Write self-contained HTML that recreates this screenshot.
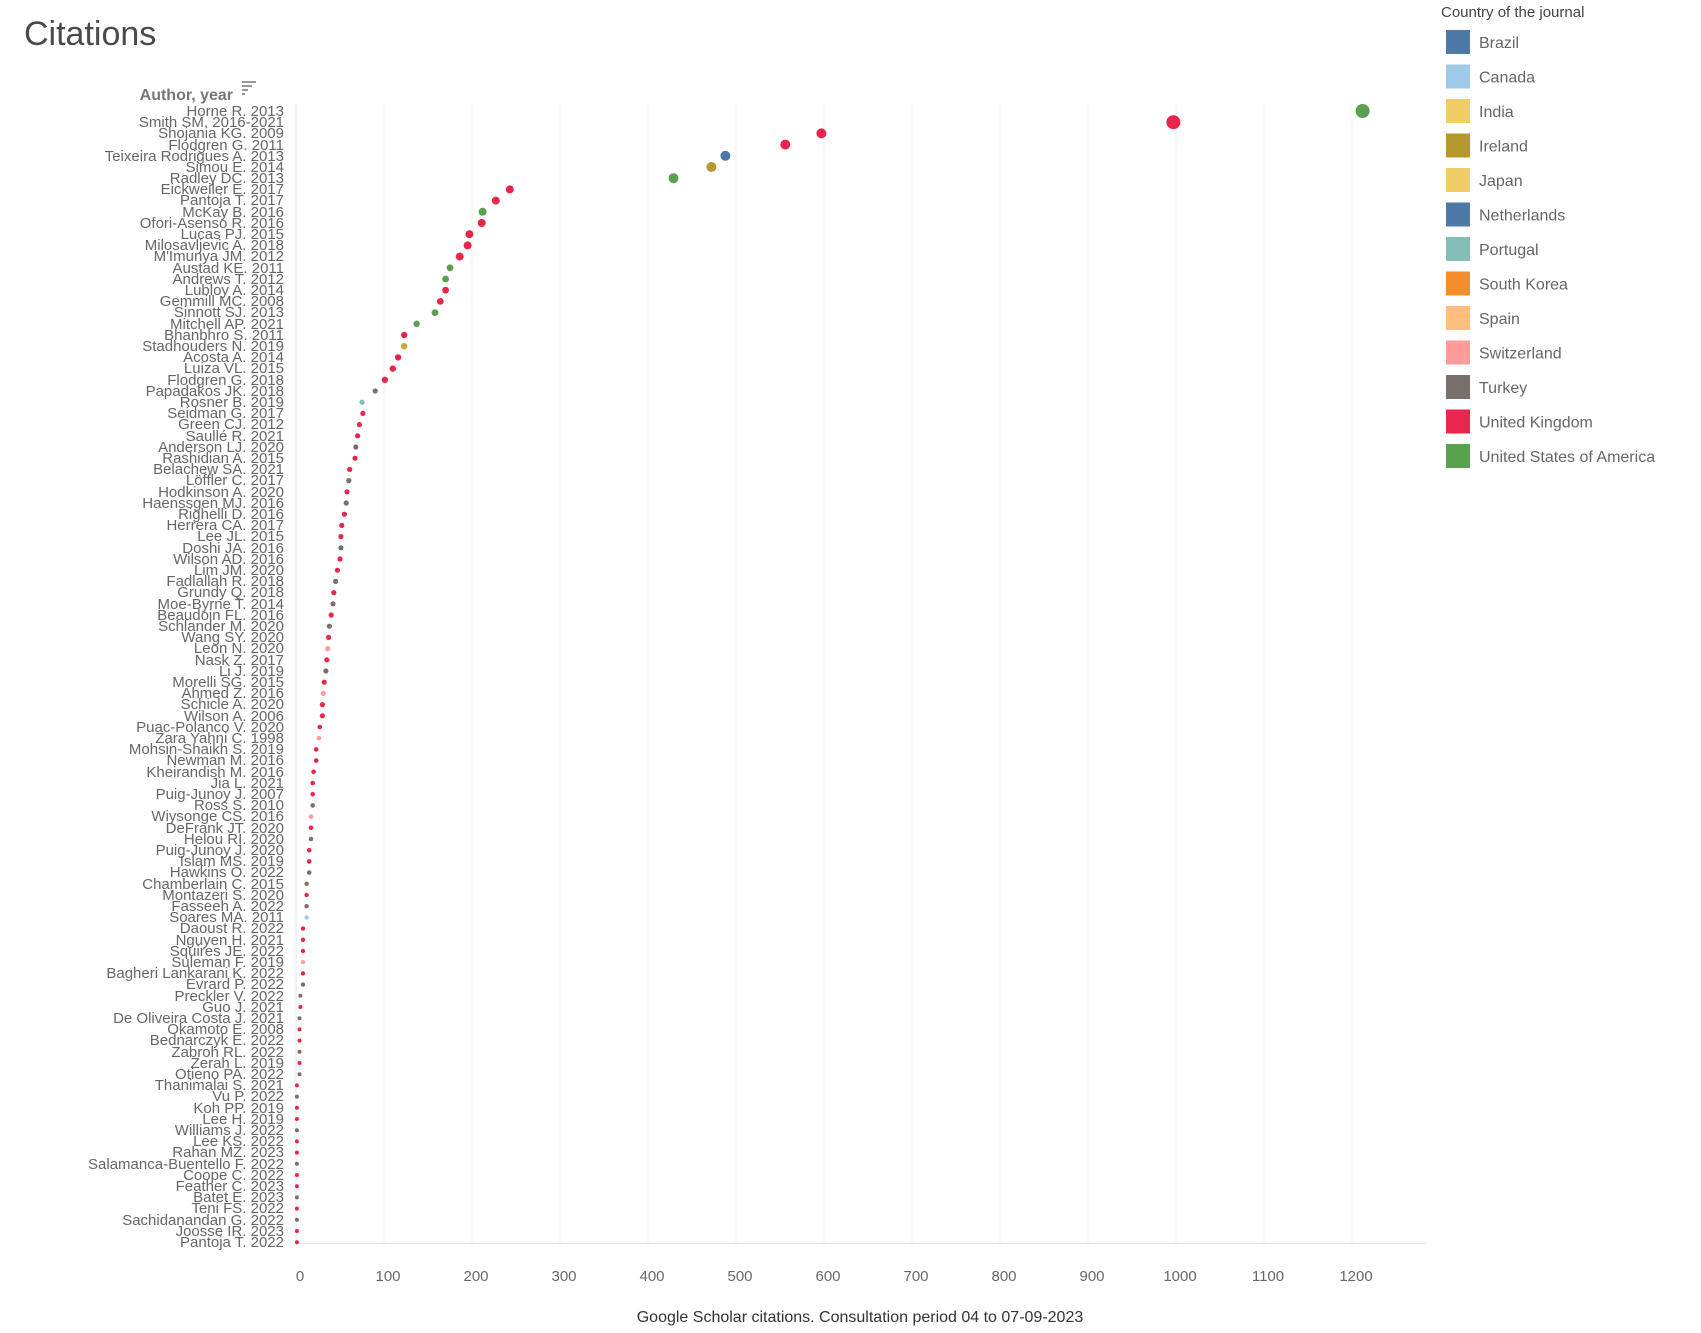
<!DOCTYPE html>
<html><head><meta charset="utf-8"><style>
html,body{margin:0;padding:0;background:#fff;}
svg{display:block;font-family:"Liberation Sans",sans-serif;}
</style></head><body>
<svg width="1701" height="1333" viewBox="0 0 1701 1333">
<text x="24" y="45" font-size="34" fill="#4a4a4a">Citations</text>
<text x="233" y="100" font-size="16" font-weight="bold" fill="#777" text-anchor="end">Author, year</text>
<g fill="#999"><rect x="242" y="81" width="14" height="2"/><rect x="242" y="85" width="10" height="2"/><rect x="242" y="89" width="6" height="2"/><rect x="242" y="93" width="3" height="2"/></g>
<g stroke="#ececec" stroke-width="1">
<line x1="384" y1="103" x2="384" y2="1243"/><line x1="472" y1="103" x2="472" y2="1243"/><line x1="560" y1="103" x2="560" y2="1243"/><line x1="648" y1="103" x2="648" y2="1243"/><line x1="736" y1="103" x2="736" y2="1243"/><line x1="824" y1="103" x2="824" y2="1243"/><line x1="912" y1="103" x2="912" y2="1243"/><line x1="1000" y1="103" x2="1000" y2="1243"/><line x1="1088" y1="103" x2="1088" y2="1243"/><line x1="1176" y1="103" x2="1176" y2="1243"/><line x1="1264" y1="103" x2="1264" y2="1243"/><line x1="1352" y1="103" x2="1352" y2="1243"/>
</g>
<line x1="296" y1="103" x2="296" y2="1243" stroke="#e4e4e4"/>
<line x1="296" y1="1243.5" x2="1427" y2="1243.5" stroke="#e4e4e4"/>
<g font-size="15" fill="#666" text-anchor="middle">
<text x="300" y="1281">0</text><text x="388" y="1281">100</text><text x="476" y="1281">200</text><text x="564" y="1281">300</text><text x="652" y="1281">400</text><text x="740" y="1281">500</text><text x="828" y="1281">600</text><text x="916" y="1281">700</text><text x="1004" y="1281">800</text><text x="1092" y="1281">900</text><text x="1180" y="1281">1000</text><text x="1268" y="1281">1100</text><text x="1356" y="1281">1200</text>
</g>
<text x="860" y="1322" font-size="16" fill="#333" text-anchor="middle">Google Scholar citations. Consultation period 04 to 07-09-2023</text>
<g font-size="15" fill="#666" text-anchor="end">
<text x="284" y="116">Horne R. 2013</text>
<text x="284" y="127">Smith SM. 2016-2021</text>
<text x="284" y="138">Shojania KG. 2009</text>
<text x="284" y="150">Flodgren G. 2011</text>
<text x="284" y="161">Teixeira Rodrigues A. 2013</text>
<text x="284" y="172">Simou E. 2014</text>
<text x="284" y="183">Radley DC. 2013</text>
<text x="284" y="194">Eickweiler E. 2017</text>
<text x="284" y="205">Pantoja T. 2017</text>
<text x="284" y="217">McKay B. 2016</text>
<text x="284" y="228">Ofori-Asenso R. 2016</text>
<text x="284" y="239">Lucas PJ. 2015</text>
<text x="284" y="250">Milosavljevic A. 2018</text>
<text x="284" y="261">M'Imunya JM. 2012</text>
<text x="284" y="273">Austad KE. 2011</text>
<text x="284" y="284">Andrews T. 2012</text>
<text x="284" y="295">Lubloy A. 2014</text>
<text x="284" y="306">Gemmill MC. 2008</text>
<text x="284" y="317">Sinnott SJ. 2013</text>
<text x="284" y="329">Mitchell AP. 2021</text>
<text x="284" y="340">Bhanbhro S. 2011</text>
<text x="284" y="351">Stadhouders N. 2019</text>
<text x="284" y="362">Acosta A. 2014</text>
<text x="284" y="373">Luiza VL. 2015</text>
<text x="284" y="385">Flodgren G. 2018</text>
<text x="284" y="396">Papadakos JK. 2018</text>
<text x="284" y="407">Rosner B. 2019</text>
<text x="284" y="418">Seidman G. 2017</text>
<text x="284" y="429">Green CJ. 2012</text>
<text x="284" y="441">Saullé R. 2021</text>
<text x="284" y="452">Anderson LJ. 2020</text>
<text x="284" y="463">Rashidian A. 2015</text>
<text x="284" y="474">Belachew SA. 2021</text>
<text x="284" y="485">Löffler C. 2017</text>
<text x="284" y="497">Hodkinson A. 2020</text>
<text x="284" y="508">Haenssgen MJ. 2016</text>
<text x="284" y="519">Righelli D. 2016</text>
<text x="284" y="530">Herrera CA. 2017</text>
<text x="284" y="541">Lee JL. 2015</text>
<text x="284" y="553">Doshi JA. 2016</text>
<text x="284" y="564">Wilson AD. 2016</text>
<text x="284" y="575">Lim JM. 2020</text>
<text x="284" y="586">Fadlallah R. 2018</text>
<text x="284" y="597">Grundy Q. 2018</text>
<text x="284" y="609">Moe-Byrne T. 2014</text>
<text x="284" y="620">Beaudoin FL. 2016</text>
<text x="284" y="631">Schlander M. 2020</text>
<text x="284" y="642">Wang SY. 2020</text>
<text x="284" y="653">Leon N. 2020</text>
<text x="284" y="665">Nask Z. 2017</text>
<text x="284" y="676">Li J. 2019</text>
<text x="284" y="687">Morelli SG. 2015</text>
<text x="284" y="698">Ahmed Z. 2016</text>
<text x="284" y="709">Schicle A. 2020</text>
<text x="284" y="721">Wilson A. 2006</text>
<text x="284" y="732">Puac-Polanco V. 2020</text>
<text x="284" y="743">Zara Yahni C. 1998</text>
<text x="284" y="754">Mohsin-Shaikh S. 2019</text>
<text x="284" y="765">Newman M. 2016</text>
<text x="284" y="777">Kheirandish M. 2016</text>
<text x="284" y="788">Jia L. 2021</text>
<text x="284" y="799">Puig-Junoy J. 2007</text>
<text x="284" y="810">Ross S. 2010</text>
<text x="284" y="821">Wiysonge CS. 2016</text>
<text x="284" y="833">DeFrank JT. 2020</text>
<text x="284" y="844">Helou RI. 2020</text>
<text x="284" y="855">Puig-Junoy J. 2020</text>
<text x="284" y="866">Islam MS. 2019</text>
<text x="284" y="877">Hawkins O. 2022</text>
<text x="284" y="889">Chamberlain C. 2015</text>
<text x="284" y="900">Montazeri S. 2020</text>
<text x="284" y="911">Fasseeh A. 2022</text>
<text x="284" y="922">Soares MA. 2011</text>
<text x="284" y="933">Daoust R. 2022</text>
<text x="284" y="945">Nguyen H. 2021</text>
<text x="284" y="956">Squires JE. 2022</text>
<text x="284" y="967">Suleman F. 2019</text>
<text x="284" y="978">Bagheri Lankarani K. 2022</text>
<text x="284" y="989">Evrard P. 2022</text>
<text x="284" y="1001">Preckler V. 2022</text>
<text x="284" y="1012">Guo J. 2021</text>
<text x="284" y="1023">De Oliveira Costa J. 2021</text>
<text x="284" y="1034">Okamoto E. 2008</text>
<text x="284" y="1045">Bednarczyk E. 2022</text>
<text x="284" y="1057">Zabroh RL. 2022</text>
<text x="284" y="1068">Zerah L. 2019</text>
<text x="284" y="1079">Otieno PA. 2022</text>
<text x="284" y="1090">Thanimalai S. 2021</text>
<text x="284" y="1101">Vu P. 2022</text>
<text x="284" y="1113">Koh PP. 2019</text>
<text x="284" y="1124">Lee H. 2019</text>
<text x="284" y="1135">Williams J. 2022</text>
<text x="284" y="1146">Lee KS. 2022</text>
<text x="284" y="1157">Rahan MZ. 2023</text>
<text x="284" y="1169">Salamanca-Buentello F. 2022</text>
<text x="284" y="1180">Coope C. 2022</text>
<text x="284" y="1191">Feather C. 2023</text>
<text x="284" y="1202">Batet E. 2023</text>
<text x="284" y="1213">Teni FS. 2022</text>
<text x="284" y="1225">Sachidanandan G. 2022</text>
<text x="284" y="1236">Joosse IR. 2023</text>
<text x="284" y="1247">Pantoja T. 2022</text>
</g>
<g>
<circle cx="1362.6" cy="111" r="7" fill="#59a14f"/>
<circle cx="1173.4" cy="122.2" r="7" fill="#e8264c"/>
<circle cx="821.4" cy="133.4" r="5" fill="#e8264c"/>
<circle cx="785.3" cy="144.6" r="5" fill="#e8264c"/>
<circle cx="725.4" cy="155.8" r="5" fill="#4e79a7"/>
<circle cx="711.4" cy="167" r="5" fill="#b6992d"/>
<circle cx="673.5" cy="178.2" r="5" fill="#59a14f"/>
<circle cx="509.8" cy="189.4" r="4" fill="#e8264c"/>
<circle cx="495.8" cy="200.6" r="4" fill="#e8264c"/>
<circle cx="482.6" cy="211.8" r="4" fill="#59a14f"/>
<circle cx="481.7" cy="223" r="4" fill="#e8264c"/>
<circle cx="469.4" cy="234.2" r="4" fill="#e8264c"/>
<circle cx="467.6" cy="245.4" r="4" fill="#e8264c"/>
<circle cx="459.7" cy="256.6" r="4" fill="#e8264c"/>
<circle cx="450" cy="267.8" r="3.4" fill="#59a14f"/>
<circle cx="445.6" cy="279" r="3.4" fill="#59a14f"/>
<circle cx="445.6" cy="290.2" r="3.4" fill="#e8264c"/>
<circle cx="440.3" cy="301.4" r="3.4" fill="#e8264c"/>
<circle cx="435" cy="312.6" r="3.4" fill="#59a14f"/>
<circle cx="416.6" cy="323.8" r="3.2" fill="#59a14f"/>
<circle cx="404.2" cy="335" r="3.2" fill="#e8264c"/>
<circle cx="404.2" cy="346.2" r="3.2" fill="#c9a83a"/>
<circle cx="398.1" cy="357.4" r="3.2" fill="#e8264c"/>
<circle cx="392.8" cy="368.6" r="3.2" fill="#e8264c"/>
<circle cx="384.9" cy="379.8" r="3.2" fill="#e8264c"/>
<circle cx="375.2" cy="391" r="2.6" fill="#79706e"/>
<circle cx="362" cy="402.2" r="2.6" fill="#86bcb6"/>
<circle cx="362.9" cy="413.4" r="2.6" fill="#e8264c"/>
<circle cx="359.4" cy="424.6" r="2.6" fill="#e8264c"/>
<circle cx="357.6" cy="435.8" r="2.6" fill="#e8264c"/>
<circle cx="355.8" cy="447" r="2.6" fill="#79706e"/>
<circle cx="355" cy="458.2" r="2.6" fill="#e8264c"/>
<circle cx="349.7" cy="469.4" r="2.6" fill="#e8264c"/>
<circle cx="348.8" cy="480.6" r="2.6" fill="#79706e"/>
<circle cx="347" cy="491.8" r="2.6" fill="#e8264c"/>
<circle cx="346.2" cy="503" r="2.6" fill="#79706e"/>
<circle cx="344.4" cy="514.2" r="2.6" fill="#e8264c"/>
<circle cx="341.8" cy="525.4" r="2.6" fill="#e8264c"/>
<circle cx="340.9" cy="536.6" r="2.6" fill="#e8264c"/>
<circle cx="340.9" cy="547.8" r="2.6" fill="#79706e"/>
<circle cx="340" cy="559" r="2.6" fill="#e8264c"/>
<circle cx="337.4" cy="570.2" r="2.6" fill="#e8264c"/>
<circle cx="335.6" cy="581.4" r="2.6" fill="#79706e"/>
<circle cx="333.8" cy="592.6" r="2.6" fill="#e8264c"/>
<circle cx="333" cy="603.8" r="2.6" fill="#79706e"/>
<circle cx="331.2" cy="615" r="2.6" fill="#e8264c"/>
<circle cx="329.4" cy="626.2" r="2.6" fill="#79706e"/>
<circle cx="328.6" cy="637.4" r="2.6" fill="#e8264c"/>
<circle cx="327.7" cy="648.6" r="2.6" fill="#ff9d9a"/>
<circle cx="326.8" cy="659.8" r="2.6" fill="#e8264c"/>
<circle cx="325.9" cy="671" r="2.6" fill="#79706e"/>
<circle cx="324.2" cy="682.2" r="2.6" fill="#e8264c"/>
<circle cx="323.3" cy="693.4" r="2.6" fill="#ff9d9a"/>
<circle cx="322.4" cy="704.6" r="2.6" fill="#e8264c"/>
<circle cx="322.4" cy="715.8" r="2.6" fill="#e8264c"/>
<circle cx="319.8" cy="727" r="2.3" fill="#e8264c"/>
<circle cx="318.9" cy="738.2" r="2.3" fill="#ff9d9a"/>
<circle cx="316.2" cy="749.4" r="2.3" fill="#e8264c"/>
<circle cx="316.2" cy="760.6" r="2.3" fill="#e8264c"/>
<circle cx="313.6" cy="771.8" r="2.3" fill="#e8264c"/>
<circle cx="312.7" cy="783" r="2.3" fill="#e8264c"/>
<circle cx="312.7" cy="794.2" r="2.3" fill="#e8264c"/>
<circle cx="312.7" cy="805.4" r="2.3" fill="#79706e"/>
<circle cx="311" cy="816.6" r="2.3" fill="#ff9d9a"/>
<circle cx="311" cy="827.8" r="2.3" fill="#e8264c"/>
<circle cx="311" cy="839" r="2.3" fill="#79706e"/>
<circle cx="309.2" cy="850.2" r="2.3" fill="#e8264c"/>
<circle cx="309.2" cy="861.4" r="2.3" fill="#e8264c"/>
<circle cx="309.2" cy="872.6" r="2.3" fill="#79706e"/>
<circle cx="306.6" cy="883.8" r="2.2" fill="#79706e"/>
<circle cx="306.6" cy="895" r="2.2" fill="#e8264c"/>
<circle cx="306.6" cy="906.2" r="2.2" fill="#79706e"/>
<circle cx="306.6" cy="917.4" r="2.2" fill="#a0cbe8"/>
<circle cx="303" cy="928.6" r="2.2" fill="#e8264c"/>
<circle cx="303" cy="939.8" r="2.2" fill="#e8264c"/>
<circle cx="303" cy="951" r="2.2" fill="#e8264c"/>
<circle cx="303" cy="962.2" r="2.2" fill="#ff9d9a"/>
<circle cx="303" cy="973.4" r="2.2" fill="#e8264c"/>
<circle cx="303" cy="984.6" r="2.2" fill="#79706e"/>
<circle cx="300.4" cy="995.8" r="2" fill="#79706e"/>
<circle cx="300.4" cy="1007" r="2" fill="#e8264c"/>
<circle cx="299.5" cy="1018.2" r="2" fill="#79706e"/>
<circle cx="299.5" cy="1029.4" r="2" fill="#e8264c"/>
<circle cx="299.5" cy="1040.6" r="2" fill="#e8264c"/>
<circle cx="299.5" cy="1051.8" r="2" fill="#79706e"/>
<circle cx="299.5" cy="1063" r="2" fill="#e8264c"/>
<circle cx="299.5" cy="1074.2" r="2" fill="#79706e"/>
<circle cx="296.9" cy="1085.4" r="2" fill="#e8264c"/>
<circle cx="296.9" cy="1096.6" r="2" fill="#79706e"/>
<circle cx="296.9" cy="1107.8" r="2" fill="#e8264c"/>
<circle cx="296.9" cy="1119" r="2" fill="#e8264c"/>
<circle cx="296.9" cy="1130.2" r="2" fill="#79706e"/>
<circle cx="296.9" cy="1141.4" r="2" fill="#e8264c"/>
<circle cx="296.9" cy="1152.6" r="2" fill="#e8264c"/>
<circle cx="296.9" cy="1163.8" r="2" fill="#79706e"/>
<circle cx="296.9" cy="1175" r="2" fill="#e8264c"/>
<circle cx="296.9" cy="1186.2" r="2" fill="#e8264c"/>
<circle cx="296.9" cy="1197.4" r="2" fill="#79706e"/>
<circle cx="296.9" cy="1208.6" r="2" fill="#e8264c"/>
<circle cx="296.9" cy="1219.8" r="2" fill="#79706e"/>
<circle cx="296.9" cy="1231" r="2" fill="#e8264c"/>
<circle cx="296.9" cy="1242.2" r="2" fill="#e8264c"/>
</g>
<text x="1441" y="17" font-size="15" fill="#444">Country of the journal</text>
<g font-size="16" fill="#666">
<rect x="1446" y="30" width="24" height="24" fill="#4e79a7"/><text x="1479" y="48">Brazil</text>
<rect x="1446" y="64.5" width="24" height="24" fill="#a0cbe8"/><text x="1479" y="82.5">Canada</text>
<rect x="1446" y="99" width="24" height="24" fill="#f1ce63"/><text x="1479" y="117">India</text>
<rect x="1446" y="133.5" width="24" height="24" fill="#b6992d"/><text x="1479" y="151.5">Ireland</text>
<rect x="1446" y="168" width="24" height="24" fill="#f1ce63"/><text x="1479" y="186">Japan</text>
<rect x="1446" y="202.5" width="24" height="24" fill="#4e79a7"/><text x="1479" y="220.5">Netherlands</text>
<rect x="1446" y="237" width="24" height="24" fill="#86bcb6"/><text x="1479" y="255">Portugal</text>
<rect x="1446" y="271.5" width="24" height="24" fill="#f28e2b"/><text x="1479" y="289.5">South Korea</text>
<rect x="1446" y="306" width="24" height="24" fill="#ffbe7d"/><text x="1479" y="324">Spain</text>
<rect x="1446" y="340.5" width="24" height="24" fill="#ff9d9a"/><text x="1479" y="358.5">Switzerland</text>
<rect x="1446" y="375" width="24" height="24" fill="#79706e"/><text x="1479" y="393">Turkey</text>
<rect x="1446" y="409.5" width="24" height="24" fill="#e8264c"/><text x="1479" y="427.5">United Kingdom</text>
<rect x="1446" y="444" width="24" height="24" fill="#59a14f"/><text x="1479" y="462">United States of America</text>
</g>
</svg>
</body></html>
